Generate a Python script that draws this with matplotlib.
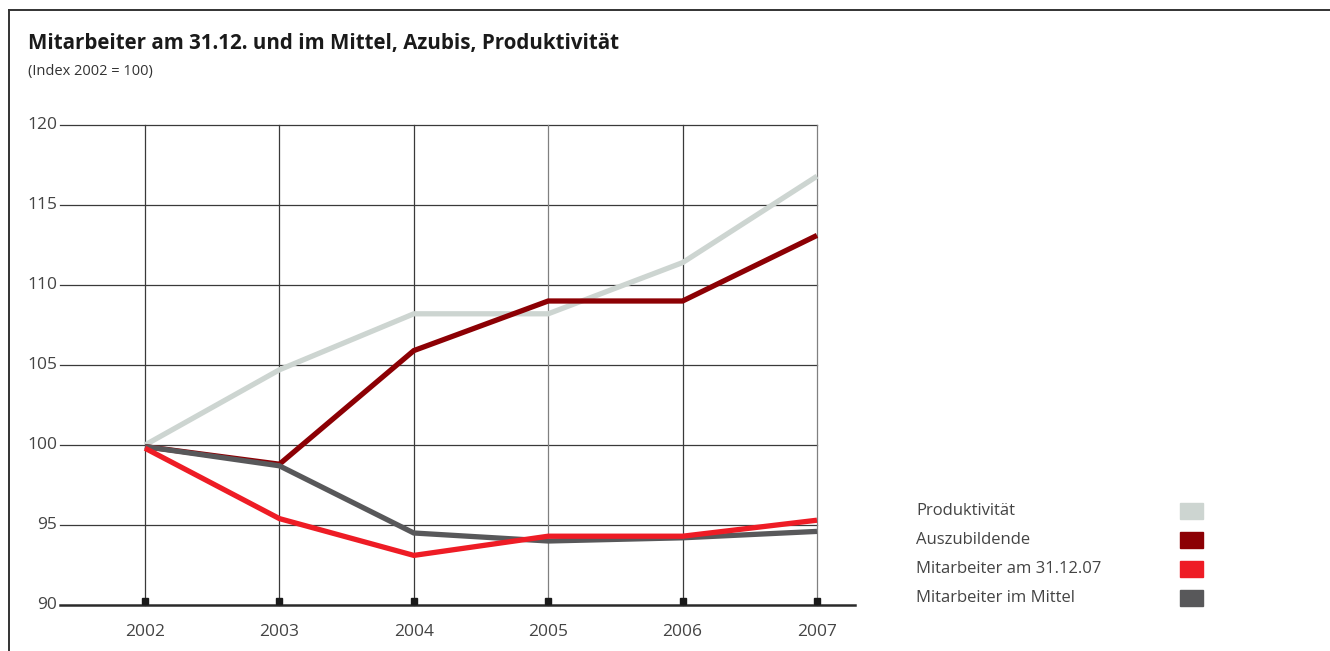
import matplotlib

matplotlib.use("Agg")
import matplotlib.pyplot as plt
from matplotlib.lines import Line2D
from matplotlib.patches import Rectangle

plt.rcParams["font.family"] = ["Open Sans", "DejaVu Sans"]

YEARS = [2002, 2003, 2004, 2005, 2006, 2007]
Y_TICKS = [90, 95, 100, 105, 110, 115, 120]

SERIES_NAMES = [
    "Produktivität",
    "Auszubildende",
    "Mitarbeiter am 31.12.07",
    "Mitarbeiter im Mittel",
]
PRODUKTIVITAET = [100.0, 104.7, 108.2, 108.2, 111.4, 116.8]
AUSZUBILDENDE = [99.9, 98.8, 105.9, 109.0, 109.0, 113.1]
MA_STICHTAG = [99.8, 95.4, 93.1, 94.3, 94.3, 95.3]
MA_MITTEL = [99.9, 98.7, 94.5, 94.0, 94.2, 94.6]

COLORS = ["#cdd5d1", "#8c0004", "#ee1c25", "#58585a"]

W, H = 1330, 651
fig = plt.figure(figsize=(W / 100, H / 100), dpi=100)


def fx(px):
    return px / W


def fy(py):
    return 1 - py / H


# axes box: left edge at the start of the gridlines, right edge at the end of the base line
ax_left, ax_right, ax_top, ax_bottom = 60, 855, 125, 605
ax = fig.add_axes([fx(ax_left), fy(ax_bottom), fx(ax_right - ax_left), (ax_bottom - ax_top) / H])
px_per_year = (817 - 145) / 5
ax.set_xlim(2002 - (145 - ax_left) / px_per_year, 2007 + (ax_right - 817) / px_per_year)
ax.set_ylim(90, 120)
for s in ax.spines.values():
    s.set_visible(False)
ax.set_xticks([])
ax.set_yticks([])

x0 = ax.get_xlim()[0]
tick_kw = dict(fontsize=12.5, color="#444444", clip_on=False)
# horizontal grid
for y in Y_TICKS:
    if y > Y_TICKS[0]:
        ax.plot([x0, YEARS[-1]], [y, y], color="#3a3a3a", lw=0.9, zorder=1, clip_on=False)
    ax.text(x0 - 0.02, y, str(y), ha="right", va="center", **tick_kw)
# vertical grid
for yr in YEARS:
    c = "#808080" if yr in (2005, 2007) else "#3a3a3a"
    ax.plot([yr, yr], [90, 120], color=c, lw=0.9, zorder=1, clip_on=False)
    ax.text(yr, 88.3, str(yr), ha="center", va="center", **tick_kw)

# base line with tick blocks
ax.plot(ax.get_xlim(), [90, 90], color="#2a2a2a", lw=1.8, zorder=4, clip_on=False)
ax.plot(YEARS, [90.25] * len(YEARS), linestyle="none", marker="s", ms=4.8,
        color="#1a1a1a", zorder=4, clip_on=False)

for vals, color in zip([PRODUKTIVITAET, AUSZUBILDENDE, MA_MITTEL, MA_STICHTAG],
                       [COLORS[0], COLORS[1], COLORS[3], COLORS[2]]):
    ax.plot(YEARS, vals, color=color, lw=3.8, solid_joinstyle="miter",
            solid_capstyle="butt", zorder=3, clip_on=False)

# title block
fig.text(fx(28), fy(43), "Mitarbeiter am 31.12. und im Mittel, Azubis, Produktivität",
         fontsize=14.8, fontweight="bold", color="#1a1a1a", ha="left", va="center")
fig.text(fx(28), fy(71), "(Index 2002 = 100)", fontsize=10.5, color="#333333",
         ha="left", va="center")

# legend
for k, (name, color) in enumerate(zip(SERIES_NAMES, COLORS)):
    yc = 511 + 29 * k
    fig.text(fx(916), fy(yc), name, fontsize=12, color="#444444", ha="left", va="center")
    fig.patches.append(Rectangle((fx(1180), fy(yc + 8)), fx(23), 16 / H,
                                 transform=fig.transFigure, color=color, figure=fig))

# frame at top and left
fig.add_artist(Line2D([fx(9), 1], [fy(10), fy(10)], transform=fig.transFigure,
                      color="#333333", lw=1.4))
fig.add_artist(Line2D([fx(9), fx(9)], [fy(10), 0], transform=fig.transFigure,
                      color="#333333", lw=1.4))

fig.savefig("out.png", dpi=100)
